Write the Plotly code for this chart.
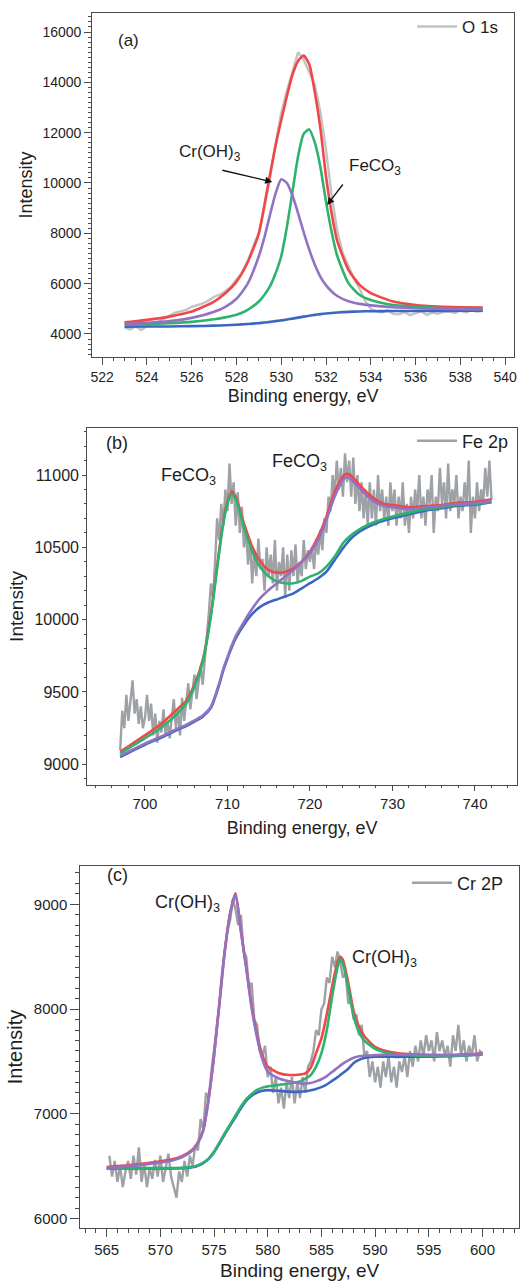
import numpy as np
import plotly.graph_objects as go

# ---------------- Panel (a): O 1s ----------------
a_fit_E = [523, 524, 525, 526, 527, 527.5, 528, 528.5, 529, 529.25, 529.5, 529.75, 530, 530.25,
           530.5, 530.75, 531, 531.25, 531.5, 531.75, 532, 532.25, 532.5, 533, 533.5, 534, 535,
           536, 537, 538, 539]
a_red = [4460, 4560, 4690, 4890, 5290, 5620, 6080, 6850, 8000, 9150, 10350, 11500, 12500, 13450,
         14300, 14850, 15060, 14720, 13600, 12150, 10250, 8800, 7700, 6545, 5950, 5620, 5290,
         5150, 5085, 5060, 5050]
a_green = [4360, 4385, 4425, 4480, 4585, 4660, 4760, 4960, 5290, 5560, 5900, 6420, 7100, 8250,
           9650, 11050, 11950, 12130, 11600, 10620, 9250, 8050, 7100, 6020, 5550, 5350, 5150,
           5085, 5030, 5005, 4980]
a_purple = [4400, 4440, 4510, 4640, 4880, 5080, 5400, 6000, 7100, 7850, 8750, 9600, 10150, 10000,
            9500, 8800, 8050, 7350, 6750, 6270, 5930, 5690, 5510, 5300, 5195, 5135, 5060, 5025,
            5000, 4985, 4975]
a_blue = [4290, 4295, 4300, 4310, 4330, 4345, 4365, 4395, 4430, 4455, 4480, 4510, 4540, 4575,
          4610, 4650, 4690, 4725, 4760, 4790, 4815, 4835, 4855, 4880, 4895, 4905, 4912, 4915,
          4918, 4920, 4925]
a_raw_E = np.arange(523.0, 539.001, 0.25)
a_raw = [4250, 4180, 4300, 4160, 4320, 4420, 4480, 4600, 4720, 4850, 4900, 4960, 5080, 5150,
         5220, 5330, 5480, 5560, 5700, 5880, 6150, 6450, 6900, 7450, 8050, 9000, 10200, 11600,
         12800, 13650, 14400, 15200, 14900, 14400, 13900, 12800, 11300, 9500, 8100, 7200, 6700,
         6200, 5800, 5300, 5000, 4900, 4850, 4950, 4800, 4780, 4870, 4750, 4820, 4900, 4760,
         4850, 4800, 4880, 4900, 4830, 4920, 4850, 4950, 4880, 4920]

# ---------------- Panel (b): Fe 2p ----------------
b_fit_E = [697, 698, 700, 702, 704, 705, 706, 707, 708, 709, 709.5, 710, 710.5, 711, 712, 713,
           714, 715, 716, 717, 718, 719, 720, 721, 722, 723, 724, 724.5, 725, 726, 727, 728, 729,
           730, 732, 734, 736, 738, 740, 742]
b_red = [9088, 9125, 9200, 9280, 9385, 9440, 9550, 9720, 10040, 10480, 10680, 10815, 10885,
         10850, 10666, 10505, 10400, 10343, 10325, 10330, 10355, 10400, 10470, 10574, 10712,
         10885, 10990, 11008, 10995, 10932, 10874, 10828, 10800, 10793, 10777, 10786, 10793,
         10810, 10814, 10832]
b_green = [9075, 9110, 9180, 9255, 9355, 9420, 9535, 9705, 10025, 10465, 10665, 10800, 10870,
           10835, 10640, 10470, 10360, 10298, 10263, 10252, 10252, 10268, 10298, 10320, 10367,
           10436, 10528, 10560, 10586, 10625, 10655, 10678, 10697, 10713, 10740, 10763, 10777,
           10793, 10800, 10816]
b_purple = [9058, 9088, 9143, 9193, 9248, 9273, 9303, 9337, 9398, 9560, 9660, 9740, 9818, 9885,
            9985, 10075, 10150, 10205, 10252, 10298, 10344, 10401, 10459, 10551, 10690, 10851,
            10966, 10985, 10970, 10909, 10851, 10809, 10786, 10777, 10763, 10777, 10786, 10800,
            10805, 10821]
b_blue = [9050, 9080, 9135, 9185, 9240, 9265, 9295, 9329, 9390, 9550, 9650, 9730, 9805, 9870,
          9965, 10040, 10090, 10120, 10140, 10160, 10182, 10217, 10252, 10286, 10332, 10413,
          10494, 10530, 10563, 10609, 10640, 10667, 10685, 10701, 10729, 10754, 10770, 10788,
          10795, 10812]
b_raw_E = np.arange(697.0, 742.001, 0.25)
b_raw = [9100, 9370, 9250, 9480, 9300, 9420, 9580, 9350, 9450, 9280, 9400, 9250, 9320, 9480,
         9300, 9420, 9200, 9350, 9150, 9300, 9220, 9380, 9200, 9300, 9180, 9320, 9450, 9250,
         9380, 9200, 9460, 9300, 9420, 9560, 9380, 9500, 9620, 9450, 9560, 9680, 9550, 9700,
         9900, 10050, 10250, 10150, 10400, 10700, 10550, 10800, 10650, 10900, 10750, 11080,
         10800, 10950, 10650, 10880, 10600, 10780, 10500, 10620, 10380, 10550, 10250, 10480,
         10300, 10560, 10350, 10420, 10200, 10500, 10300, 10450, 10250, 10550, 10200, 10400,
         10300, 10500, 10150, 10450, 10200, 10480, 10300, 10520, 10250, 10400, 10300, 10550,
         10350, 10480, 10400, 10500, 10350, 10560, 10450, 10620, 10480, 10700, 10600, 10850,
         10750, 11000, 10850, 11100, 10900, 11050, 10850, 11150, 10950, 11100, 10850, 11120,
         10800, 11000, 10750, 10950, 10700, 10900, 10650, 10950, 10700, 10900, 10650, 11000,
         10750, 10900, 10700, 10850, 10650, 10950, 10750, 10900, 10650, 10850, 10700, 10950,
         10650, 10800, 10600, 10850, 10700, 10900, 10750, 11000, 10700, 10850, 10650, 10900,
         10800, 11000, 10600, 10850, 10750, 11050, 10800, 10950, 10700, 11080, 10750, 10900,
         10800, 11000, 10700, 10850, 10750, 10950, 10800, 11100, 10600, 10850, 10700, 10950,
         10750, 10900, 10800, 11050, 10850, 11100, 10830]

# ---------------- Panel (c): Cr 2p ----------------
c_fit_E = [565, 567, 569, 571, 572, 573, 573.5, 574, 574.5, 575, 575.5, 576, 576.5, 577, 577.5,
           578, 578.5, 579, 579.5, 580, 581, 582, 583, 583.5, 584, 584.5, 585, 585.5, 586, 586.5,
           586.75, 587, 587.5, 588, 588.5, 589, 590, 591, 592, 594, 596, 598, 600]
c_red = [6493, 6509, 6532, 6563, 6595, 6660, 6730, 6850, 7150, 7560, 8060, 8560, 8920, 9105,
         8750, 8400, 8030, 7760, 7560, 7450, 7390, 7370, 7375, 7385, 7440, 7580, 7720, 7950,
         8220, 8450, 8500, 8470, 8250, 7980, 7830, 7740, 7640, 7600, 7580, 7565, 7560, 7565,
         7575]
c_green = [6482, 6482, 6482, 6482, 6484, 6495, 6510, 6535, 6575, 6640, 6725, 6815, 6900, 6985,
           7070, 7140, 7190, 7228, 7250, 7262, 7276, 7290, 7310, 7335, 7370, 7450, 7580, 7800,
           8120, 8400, 8475, 8430, 8200, 7930, 7780, 7700, 7620, 7585, 7568, 7555, 7552, 7558,
           7570]
c_purple = [6480, 6498, 6522, 6553, 6585, 6650, 6720, 6840, 7140, 7550, 8050, 8550, 8910, 9095,
            8740, 8385, 8010, 7730, 7520, 7400, 7340, 7310, 7290, 7290, 7295, 7310, 7330, 7360,
            7400, 7440, 7460, 7480, 7510, 7535, 7550, 7555, 7560, 7565, 7565, 7565, 7560, 7562,
            7570]
c_blue = [6478, 6478, 6478, 6478, 6480, 6490, 6505, 6530, 6570, 6632, 6715, 6805, 6888, 6970,
          7052, 7125, 7172, 7203, 7220, 7226, 7220, 7212, 7210, 7215, 7225, 7238, 7255, 7280,
          7315, 7350, 7370, 7390, 7430, 7485, 7515, 7532, 7545, 7545, 7544, 7545, 7548, 7555,
          7567]
c_raw_E = np.arange(565.25, 600.251, 0.25)
c_raw = [6600, 6400, 6550, 6350, 6500, 6300, 6450, 6550, 6380, 6600, 6420, 6680, 6350, 6520,
         6300, 6480, 6380, 6560, 6400, 6600, 6350, 6500, 6620, 6400, 6300, 6200, 6450, 6350,
         6550, 6400, 6600, 6500, 6700, 6650, 6950, 6850, 7200, 7150, 7400, 7600, 7850, 8050,
         8350, 8550, 8750, 8850, 9050, 8950, 8800, 8900, 8550, 8500, 8200, 8250, 7900, 7850,
         7600, 7550, 7650, 7350, 7450, 7200, 7350, 7100, 7250, 7050, 7300, 7150, 7350, 7100,
         7300, 7150, 7350, 7200, 7450, 7500, 7600, 7800, 7750, 8000, 8050, 8300, 8250, 8500,
         8400, 8550, 8450, 8300, 8350, 8050, 8100, 7900, 7950, 7750, 7850, 7550, 7600, 7350,
         7500, 7300, 7450, 7250, 7500, 7350, 7550, 7300, 7450, 7250, 7500, 7400, 7550, 7350,
         7600, 7450, 7650, 7500, 7700, 7550, 7750, 7600, 7700, 7500, 7780, 7600, 7700, 7550,
         7650, 7450, 7750, 7600, 7850, 7550, 7700, 7500, 7650, 7550, 7750, 7500, 7600, 7580]

# ---------------- Styling ----------------
FONT = "Liberation Sans, Arial, sans-serif"
TXT = "#1e1e1e"
AXC = "#4a4a4a"
RED = "#f04848"
GREEN = "#2db36e"
PURPLE = "#9272c2"
BLUE = "#3b67c2"
GRAY_A = "#c3c3c3"
GRAY_BC = "#9ea1a6"

fig = go.Figure()

panels = [
    ("x", "y", "legend", "O 1s", GRAY_A, a_raw_E, a_raw, a_fit_E, a_red, a_blue, a_green, a_purple),
    ("x2", "y2", "legend2", "Fe 2p", GRAY_BC, b_raw_E, b_raw, b_fit_E, b_red, b_blue, b_green, b_purple),
    ("x3", "y3", "legend3", "Cr 2P", GRAY_BC, c_raw_E, c_raw, c_fit_E, c_red, c_blue, c_green, c_purple),
]
for xa, ya, lg, name, gcol, rx, ry, fx, fr, fb, fg, fp in panels:
    fig.add_trace(go.Scatter(x=rx, y=ry, mode="lines", name=name, legend=lg,
                             line=dict(color=gcol, width=2.4), xaxis=xa, yaxis=ya))
    for vals, col in [(fr, RED), (fb, BLUE), (fg, GREEN), (fp, PURPLE)]:
        fig.add_trace(go.Scatter(x=fx, y=vals, mode="lines", showlegend=False,
                                 line=dict(color=col, width=2.6, shape="spline", smoothing=0.6),
                                 xaxis=xa, yaxis=ya))


def axis(domain, rng, dtick, minor, ticklen, fsize, title, tsize, anchor, standoff, tick0=None):
    d = dict(domain=domain, range=rng, dtick=dtick, showline=True, mirror=True,
             linecolor=AXC, linewidth=1, ticks="outside", ticklen=ticklen, tickwidth=1,
             tickcolor=AXC, showgrid=False, zeroline=False, anchor=anchor, tickformat="d",
             tickfont=dict(family=FONT, size=fsize, color=TXT),
             title=dict(text=title, font=dict(family=FONT, size=tsize, color=TXT),
                        standoff=standoff),
             minor=dict(dtick=minor, ticks="outside", ticklen=max(2, ticklen // 2),
                        tickwidth=1, tickcolor=AXC, showgrid=False))
    if tick0 is not None:
        d["tick0"] = tick0
    return d


H = 1281.0
W = 525.0
fig.update_layout(
    width=525, height=1281, margin=dict(l=0, r=0, t=0, b=0),
    paper_bgcolor="white", plot_bgcolor="white",
    font=dict(family=FONT, color=TXT),
    xaxis=axis([91 / W, 517 / W], [521.55, 540.4], 2, 0.5, 7, 14, "Binding energy, eV", 18, "y", 5, 522),
    yaxis=axis([1 - 357 / H, 1 - 13 / H], [3085, 16755], 2000, 200, 7, 14, "Intensity", 18, "x", 5),
    xaxis2=axis([86 / W, 520 / W], [693.0, 745.1], 10, 2, 5, 15, "Binding energy, eV", 18, "y2", 10),
    yaxis2=axis([1 - 785 / H, 1 - 428 / H], [8857, 11325], 500, 100, 4, 16, "Intensity", 19, "x2", 5),
    xaxis3=axis([79 / W, 522 / W], [562.54, 603.4], 5, 1, 8, 15, "Binding energy, eV", 19, "y3", 8),
    yaxis3=axis([1 - 1228 / H, 1 - 866 / H], [5910, 9366], 1000, 100, 9, 15, "Intensity", 20, "x3", 5),
    legend=dict(x=414 / W, y=1 - 27 / H, xanchor="left", yanchor="middle",
                bgcolor="rgba(0,0,0,0)", font=dict(family=FONT, size=17, color=TXT),
                itemwidth=40),
    legend2=dict(x=414 / W, y=1 - 441 / H, xanchor="left", yanchor="middle",
                 bgcolor="rgba(0,0,0,0)", font=dict(family=FONT, size=18, color=TXT),
                 itemwidth=40),
    legend3=dict(x=409 / W, y=1 - 883 / H, xanchor="left", yanchor="middle",
                 bgcolor="rgba(0,0,0,0)", font=dict(family=FONT, size=18, color=TXT),
                 itemwidth=40),
)

ann = []
# panel labels
for txt, px, py, fs in [("(a)", 115, 29, 17), ("(b)", 103, 443, 18), ("(c)", 104, 887, 18)]:
    ann.append(dict(text=txt, x=px / W, y=1 - py / H, xref="paper", yref="paper",
                    showarrow=False, font=dict(family=FONT, size=fs, color=TXT)))
# peak labels
for txt, x, y, xr, yr, fs in [
    ("Cr(OH)<sub>3</sub>", 526.8, 11200, "x", "y", 17),
    ("FeCO<sub>3</sub>", 534.2, 10640, "x", "y", 17),
    ("FeCO<sub>3</sub>", 705.3, 10990, "x2", "y2", 18),
    ("FeCO<sub>3</sub>", 718.7, 11085, "x2", "y2", 18),
    ("Cr(OH)<sub>3</sub>", 572.5, 9010, "x3", "y3", 18),
    ("Cr(OH)<sub>3</sub>", 590.9, 8480, "x3", "y3", 18),
]:
    ann.append(dict(text=txt, x=x, y=y, xref=xr, yref=yr, showarrow=False,
                    font=dict(family=FONT, size=fs, color=TXT)))
# arrows in panel (a)
for tip, tail in [((529.6, 10040), (527.3, 10520)), ((532.05, 9130), (532.8, 10000))]:
    ann.append(dict(text="", x=tip[0], y=tip[1], ax=tail[0], ay=tail[1], xref="x", yref="y",
                    axref="x", ayref="y", showarrow=True, arrowhead=2, arrowsize=1.1,
                    arrowwidth=1.3, arrowcolor="#111"))
fig.update_layout(annotations=ann)

fig.write_html("out.html")
